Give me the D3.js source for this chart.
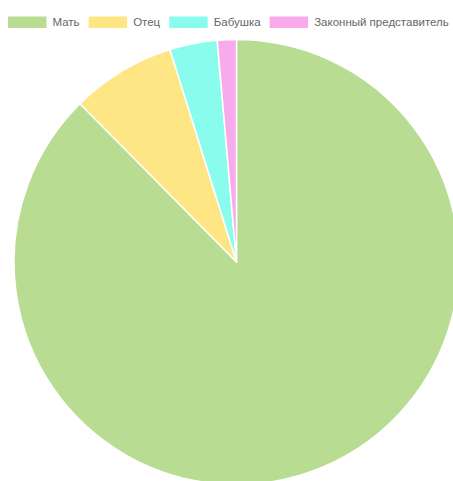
<!DOCTYPE html>
<html>
<head>
<meta charset="utf-8">
<script src="https://cdn.jsdelivr.net/npm/d3@7"></script>
<style>
  html, body { margin: 0; padding: 0; background: #fff; overflow: hidden; }
  svg { display: block; }
</style>
</head>
<body>
<svg id="chart" width="453" height="481"></svg>
<script>
const categories = ["Мать", "Отец", "Бабушка", "Законный представитель"];
const values = [127, 11, 5, 2];
const colors = ["#b8dc91", "#fee684", "#8afcee", "#f7aaec"];

const svg = d3.select("#chart");
const cx = 236.5, cy = 262, r = 222.5;

const pie = d3.pie().sort(null).value(d => d.v);
const arcs = pie(categories.map((c, i) => ({ c, v: values[i] })));
const arc = d3.arc().innerRadius(0).outerRadius(r);
const color = d3.scaleOrdinal().domain(categories).range(colors);

svg.append("g")
  .attr("transform", `translate(${cx},${cy})`)
  .selectAll("path")
  .data(arcs)
  .join("path")
  .attr("d", arc)
  .attr("fill", d => color(d.data.c))
  .attr("stroke", "#fff")
  .attr("stroke-width", 1.5)
  .attr("stroke-linejoin", "round");

// legend
const lg = svg.append("g");
let x = 8;
categories.forEach((c, i) => {
  lg.append("rect")
    .attr("x", x).attr("y", 16.5)
    .attr("width", 38.5).attr("height", 11.5)
    .attr("fill", color(c));
  const t = lg.append("text")
    .attr("x", x + 44.5).attr("y", 26)
    .attr("font-family", "Liberation Sans, Arial, sans-serif")
    .attr("font-size", "11.5px")
    .attr("fill", "#666")
    .text(c);
  x += 44.5 + t.node().getComputedTextLength() + 9;
});
</script>
</body>
</html>
